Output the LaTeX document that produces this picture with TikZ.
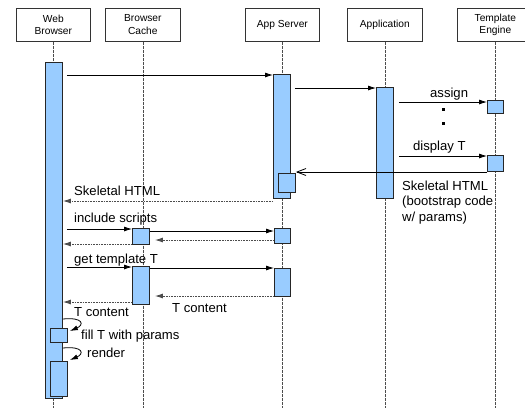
\documentclass[tikz,border=0pt]{standalone}
\usepackage{fontspec}
\setmainfont{Liberation Sans}
\usetikzlibrary{arrows.meta,calc}
\definecolor{actfill}{HTML}{99CCFF}
\begin{document}
\begin{tikzpicture}[x=1pt,y=-1pt,
  head/.style={draw=black!80, line width=0.7pt, minimum height=33pt, anchor=north west,
    align=center, inner sep=1pt, font=\fontsize{10.2}{12.8}\selectfont},
  life/.style={draw=black!70, line width=0.7pt, dash pattern=on 3pt off 1pt},
  bar/.style={draw=black!85, fill=actfill, line width=0.9pt, anchor=north west, inner sep=0pt},
  msg/.style={draw=black, line width=0.8pt, -{Latex[length=8pt,width=5pt]}},
  ret/.style={draw=black!70, line width=0.9pt, dash pattern=on 1pt off 0.6pt, -{Latex[length=8pt,width=5pt]}},
  reply/.style={draw=black, line width=0.8pt, -{Straight Barb[length=9pt,width=7pt]}},
  lbl/.style={anchor=base west, inner sep=0pt, font=\fontsize{13.1}{15.3}\selectfont},
  dotmark/.style={fill=black, minimum size=3pt, inner sep=0pt}
]
\useasboundingbox (0,0) rectangle (525,408);

% participants
\node[head, minimum width=74pt] (wb) at (16,8) {Web\\Browser};
\node[head, minimum width=75pt] (bc) at (105,8) {Browser\\Cache};
\node[head, minimum width=74pt] (as) at (245,8) {App Server};
\node[head, minimum width=75pt] (ap) at (347,8) {Application};
\node[head, minimum width=76pt] (te) at (457,8) {Template\\Engine};

% lifelines
\foreach \p in {wb,bc,as,ap,te}
  \draw[life] (\p.south) -- (\p.south |- 0,408);

% activations
\node[bar, minimum width=17pt, minimum height=336pt] (wbmain) at (45,62) {};
\node[bar, minimum width=17pt, minimum height=124pt] (asmain) at (273,74) {};
\node[bar, minimum width=17pt, minimum height=111pt] (apmain) at (376,87) {};
\node[bar, minimum width=16pt, minimum height=13pt] (te1) at (487,100) {};
\node[bar, minimum width=16pt, minimum height=16pt] (te2) at (487,155) {};
\node[bar, minimum width=17pt, minimum height=19pt] (asret) at (278,173) {};
\node[bar, minimum width=17pt, minimum height=16pt] (bc1) at (132,228) {};
\node[bar, minimum width=16pt, minimum height=15pt] (as2) at (274,228) {};
\node[bar, minimum width=17pt, minimum height=38pt] (bc2) at (132,266) {};
\node[bar, minimum width=16pt, minimum height=28pt] (as3) at (274,268) {};
\node[bar, minimum width=17pt, minimum height=14pt] (wb1) at (50,328) {};
\node[bar, minimum width=17pt, minimum height=35pt] (wb2) at (50,361) {};

% request to the app server and on to the application
\draw[msg] ($(wbmain.east |- 0,75)+(4,0)$) -- (asmain.west |- 0,75);
\draw[msg] ($(asmain.east |- 0,88)+(4,0)$) -- (apmain.west |- 0,88);

% template assignments
\draw[msg] ($(apmain.east |- 0,102)+(5,0)$) -- (te1.west |- 0,102);
\node[lbl] (lassign) at (430,97) {assign};
\node[dotmark] (d1) at (443,109) {};
\node[dotmark] (d2) at (443,123) {};
\draw[msg] ($(apmain.east |- 0,156)+(5,0)$) -- (te2.west |- 0,156);
\node[lbl] (ldisplay) at (413,150) {display T};
\draw[reply] (te2.west |- 0,172) -- (asret.east |- 0,172);
\node[lbl, align=left, anchor=north west] (lskel) at (402,181)
  {Skeletal HTML\\(bootstrap code\\w/ params)};

% skeletal page back to the browser
\draw[ret] (asmain.west |- 0,201) -- (wbmain.east |- 0,201);
\node[lbl] (lskel2) at (74,195) {Skeletal HTML};

% scripts
\draw[msg] ($(wbmain.east |- 0,229)+(4,0)$) -- (bc1.west |- 0,229);
\node[lbl] (linc) at (74,222) {include scripts};
\draw[msg] (bc1.east |- 0,231) -- (as2.west |- 0,231);
\draw[ret, shorten >=5pt] (as2.west |- 0,240) -- (bc1.east |- 0,240);
\draw[ret] (bc1.west |- 0,244) -- (wbmain.east |- 0,244);

% template
\draw[msg] ($(wbmain.east |- 0,267)+(4,0)$) -- (bc2.west |- 0,267);
\node[lbl] (lget) at (74,263) {get template T};
\draw[msg] (bc2.east |- 0,268) -- (as3.west |- 0,268);
\draw[ret, shorten >=5pt] (as3.west |- 0,296) -- (bc2.east |- 0,296);
\node[lbl] (ltc1) at (172,312) {T content};
\draw[ret] (bc2.west |- 0,302) -- (wbmain.east |- 0,302);
\node[lbl] (ltc2) at (74,316) {T content};

% client-side work
\draw[msg] (wbmain.east |- 0,319) .. controls (84,317) and (84,325) .. ($(wb1.east |- 0,331)+(2,0)$);
\node[lbl] (lfill) at (81,339) {fill T with params};
\draw[msg] (wbmain.east |- 0,348) .. controls (84,346) and (84,354) .. ($(wb2.east |- 0,360)+(2,0)$);
\node[lbl] (lrender) at (87,357) {render};
\end{tikzpicture}
\end{document}
